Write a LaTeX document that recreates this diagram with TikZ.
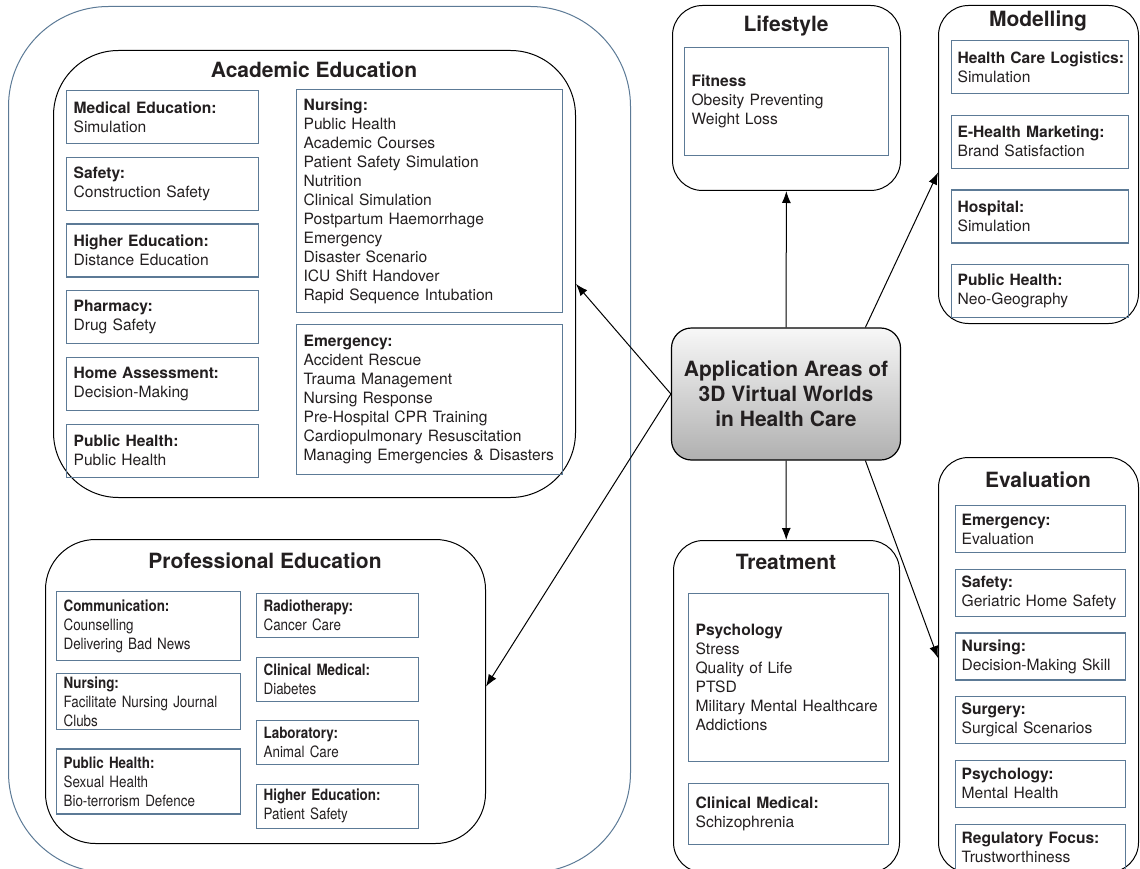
\documentclass[tikz,border=0pt]{standalone}
\usepackage{fontspec}
\setmainfont{TeX Gyre Heros}
\newfontfamily\narrowfont[FakeStretch=0.86]{TeX Gyre Heros}
\usepackage{xcolor}
\usepackage{tikz}
\usetikzlibrary{positioning,arrows.meta}
\definecolor{boxblue}{RGB}{92,122,150}
\definecolor{inkgray}{RGB}{35,31,32}
\hyphenpenalty=10000

\begin{document}
\begin{tikzpicture}[
  x=1pt, y=1pt,
  node distance=12pt,
  outerbox/.style={draw=boxblue, line width=1pt, rounded corners=100pt, inner sep=0pt, anchor=north west},
  groupbox/.style={draw=black, line width=1pt, rounded corners=#1, inner sep=0pt, anchor=north west},
  grouptitle/.style={font=\bfseries\fontsize{21}{25}\selectfont, text=inkgray},
  itembox/.style={draw=boxblue, line width=1.2pt, align=left, inner xsep=7pt, inner ysep=0pt,
    font=\fontsize{15.6}{19}\selectfont, text=inkgray, anchor=north west},
  acadleft/.style={itembox, text width=178pt, minimum width=192pt, minimum height=53pt},
  acadright/.style={itembox, text width=252pt, minimum width=266pt},
  profleft/.style={itembox, font=\narrowfont\fontsize{15.6}{19}\selectfont, text width=170pt, minimum width=184pt},
  profright/.style={itembox, font=\narrowfont\fontsize{15.6}{19}\selectfont, text width=148pt, minimum width=162pt, minimum height=44pt},
  modelitem/.style={itembox, inner xsep=6pt, text width=165pt, minimum width=177pt, minimum height=53pt},
  evalitem/.style={itembox, inner xsep=6pt, text width=158pt, minimum width=170pt, minimum height=47pt},
  treatitem/.style={itembox, text width=186pt, minimum width=200pt},
  hub/.style={draw=black, line width=1.2pt, rounded corners=20pt, top color=gray!6, bottom color=gray!62,
    align=center, font=\bfseries\fontsize{21}{25}\selectfont, text=inkgray,
    minimum width=229pt, minimum height=132pt},
  >={Latex[length=12pt,width=9pt]}
]
  \useasboundingbox (0,0) rectangle (1140,-869);

  \node[outerbox, minimum width=622pt, minimum height=866pt] (edu) at (8,-6) {};

  \node[groupbox=65pt, minimum width=522pt, minimum height=447pt] (acad) at (53,-50) {};
  \node[grouptitle] (acadtitle) at (314,-70) {Academic Education};
  \node[acadleft] (medical) at (66,-90) {\textbf{Medical Education:}\\Simulation};
  \node[acadleft, below=12.5pt of medical] (safety) {\textbf{Safety:}\\Construction Safety};
  \node[acadleft, below=12.5pt of safety] (higher) {\textbf{Higher Education:}\\Distance Education};
  \node[acadleft, below=12.5pt of higher] (pharmacy) {\textbf{Pharmacy:}\\Drug Safety};
  \node[acadleft, below=12.5pt of pharmacy] (home) {\textbf{Home Assessment:}\\Decision-Making};
  \node[acadleft, below=12.5pt of home] (acadpublic) {\textbf{Public Health:}\\Public Health};
  \node[acadright, minimum height=223pt] (nursing) at (296,-89) {\textbf{Nursing:}\\Public Health\\Academic Courses\\Patient Safety Simulation\\Nutrition\\Clinical Simulation\\Postpartum Haemorrhage\\Emergency\\Disaster Scenario\\ICU Shift Handover\\Rapid Sequence Intubation};
  \node[acadright, minimum height=150pt, below=11pt of nursing] (emergency) {\textbf{Emergency:}\\Accident Rescue\\Trauma Management\\Nursing Response\\Pre-Hospital CPR Training\\Cardiopulmonary Resuscitation\\\mbox{Managing Emergencies \& Disasters}};

  \node[groupbox=50pt, minimum width=440pt, minimum height=304pt] (prof) at (45,-539) {};
  \node[grouptitle] (proftitle) at (265,-561) {Professional Education};
  \node[profleft, minimum height=69pt] (communic) at (56,-591) {\textbf{Communication:}\\Counselling\\Delivering Bad News};
  \node[profleft, minimum height=56pt, below=12pt of communic] (profnursing) {\textbf{Nursing:}\\Facilitate Nursing Journal\\Clubs};
  \node[profleft, minimum height=65pt, below=18pt of profnursing] (profpublic) {\textbf{Public Health:}\\Sexual Health\\Bio-terrorism Defence};
  \node[profright] (radio) at (256,-593) {\textbf{Radiotherapy:}\\Cancer Care};
  \node[profright, below=18.3pt of radio] (profclinical) {\textbf{Clinical Medical:}\\Diabetes};
  \node[profright, below=18.3pt of profclinical] (laboratory) {\textbf{Laboratory:}\\Animal Care};
  \node[profright, below=18.3pt of laboratory] (profhigher) {\textbf{Higher Education:}\\Patient Safety};

  \node[groupbox=30pt, minimum width=228pt, minimum height=185pt] (life) at (672,-5) {};
  \node[grouptitle] (lifetitle) at (786,-26) {Lifestyle};
  \node[itembox, text width=190pt, minimum width=204pt, minimum height=108pt] (fitness) at (684,-47) {\textbf{Fitness}\\Obesity Preventing\\Weight Loss};

  \node[groupbox=30pt, minimum width=200pt, minimum height=318pt] (model) at (938,-5) {};
  \node[grouptitle] (modeltitle) at (1038,-21) {Modelling};
  \node[modelitem] (logistics) at (951,-40) {\mbox{\textbf{Health Care Logistics:}}\\Simulation};
  \node[modelitem, below=20.5pt of logistics] (marketing) {\textbf{E-Health Marketing:}\\Brand Satisfaction};
  \node[modelitem, below=20.5pt of marketing] (hospital) {\textbf{Hospital:}\\Simulation};
  \node[modelitem, below=20.5pt of hospital] (modelpublic) {\textbf{Public Health:}\\Neo-Geography};

  \node[groupbox=30pt, minimum width=200pt, minimum height=415pt] (eval) at (938,-457) {};
  \node[grouptitle] (evaltitle) at (1038,-480) {Evaluation};
  \node[evalitem] (evalemergency) at (955,-505) {\textbf{Emergency:}\\Evaluation};
  \node[evalitem, below=15.5pt of evalemergency] (evalsafety) {\textbf{Safety:}\\\mbox{Geriatric Home Safety}};
  \node[evalitem, below=15.5pt of evalsafety] (evalnursing) {\textbf{Nursing:}\\Decision-Making Skill};
  \node[evalitem, below=15.5pt of evalnursing] (surgery) {\textbf{Surgery:}\\Surgical Scenarios};
  \node[evalitem, below=15.5pt of surgery] (evalpsych) {\textbf{Psychology:}\\Mental Health};
  \node[evalitem, below=15.5pt of evalpsych] (regulatory) {\textbf{Regulatory Focus:}\\Trustworthiness};

  \node[groupbox=30pt, minimum width=226pt, minimum height=332pt] (treat) at (673,-540) {};
  \node[grouptitle] (treattitle) at (786,-562) {Treatment};
  \node[treatitem, minimum height=168pt] (psychology) at (688,-593) {\textbf{Psychology}\\Stress\\Quality of Life\\PTSD\\Military Mental Healthcare\\Addictions};
  \node[treatitem, minimum height=61pt, below=21pt of psychology] (treatclinical) {\textbf{Clinical Medical:}\\Schizophrenia};

  \node[hub] (hub) at (786,-394) {Application Areas of\\3D Virtual Worlds\\in Health Care};

  \draw[->, line width=1pt] (hub) -- (life);
  \draw[->, line width=1pt] (hub) -- (treat);
  \draw[->, line width=1pt] (hub.40) -- ([yshift=-8pt]model.west);
  \draw[->, line width=1pt] (hub.-40) -- ([yshift=7pt]eval.west);
  \draw[->, line width=1pt] (hub.west) -- ([yshift=-10pt]acad.east);
  \draw[->, line width=1pt] (hub.west) -- ([yshift=5pt]prof.east);
\end{tikzpicture}
\end{document}
